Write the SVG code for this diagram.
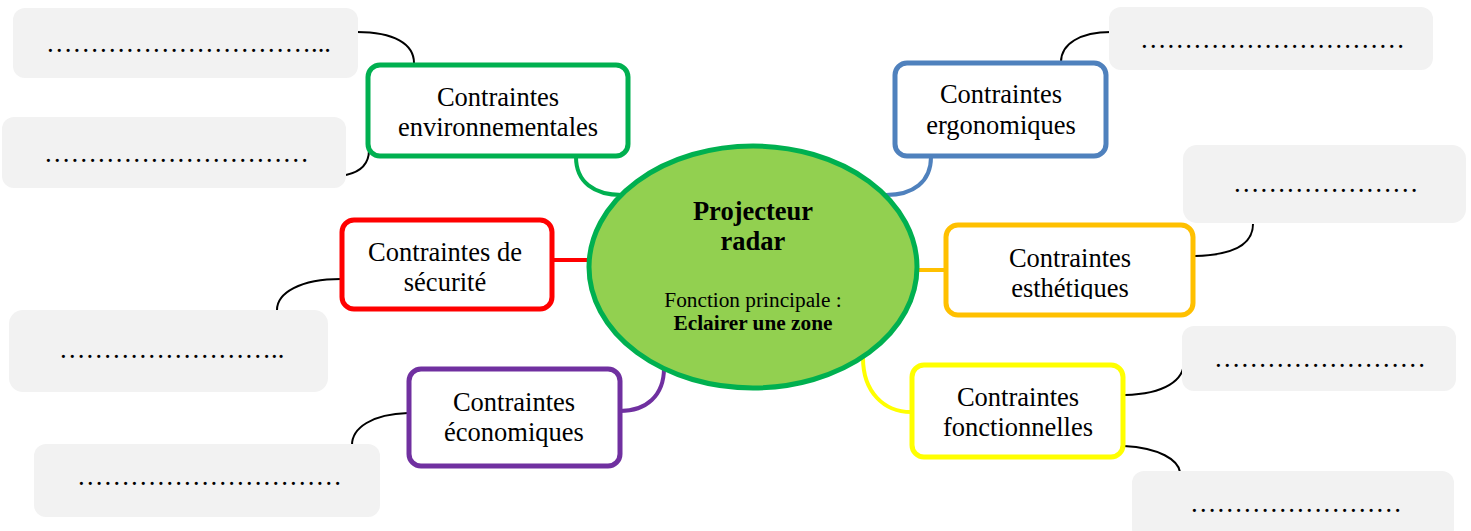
<svg xmlns="http://www.w3.org/2000/svg" width="1471" height="531" viewBox="0 0 1471 531">
<style>
.t{font-family:"Liberation Serif","Times New Roman",serif;font-size:26.5px;fill:#000}
.c{text-anchor:middle}
.g{fill:#f2f2f2}
.n{fill:#fff;stroke-width:5}
.k{fill:none;stroke:#000;stroke-width:2}
.cl{fill:none;stroke-width:4}
</style>
<defs>
<clipPath id="clipEsth"><rect x="940" y="220" width="260" height="79"/></clipPath>
</defs>
<g id="connectors">
<path class="cl" stroke="#00b050" d="M576,157 C576,182 594,195 622,195"/>
<path class="cl" stroke="#4f81bd" d="M931,157 C931,182 913,195 886,195"/>
<path class="cl" stroke="#ff0000" d="M552,260 L592,260"/>
<path class="cl" stroke="#ffc000" d="M914,270 L946,270"/>
<path class="cl" stroke="#ffff00" d="M863,358 C863,392 884,412 911,412"/>
<path class="cl" stroke="#7030a0" d="M664,368 C664,396 646,411 620,411"/>
<path class="k" d="M414,63 C414,44 394,32 357,32"/>
<path class="k" d="M369,150 C369,164 360,172 346,175"/>
<path class="k" d="M341,279 C300,279 277,293 277,310"/>
<path class="k" d="M408,413 C372,414 352,428 352,445"/>
<path class="k" d="M1061,62 C1061,44 1080,32 1111,32"/>
<path class="k" d="M1195,256 C1235,255 1253,243 1253,224"/>
<path class="k" d="M1125,395 C1165,394 1184,380 1184,362"/>
<path class="k" d="M1124,446 C1160,448 1178,460 1180,472"/>
</g>
<g id="boxA"><rect class="g" x="13" y="8" width="345" height="70" rx="12"/><text class="t" x="46" y="52">&#8230;&#8230;&#8230;&#8230;&#8230;&#8230;&#8230;&#8230;&#8230;&#8230;...</text></g>
<g id="boxB"><rect class="g" x="2" y="117" width="344" height="71" rx="12"/><text class="t" x="44" y="162">&#8230;&#8230;&#8230;&#8230;&#8230;&#8230;&#8230;&#8230;&#8230;&#8230;</text></g>
<g id="boxC"><rect class="g" x="9" y="310" width="319" height="82" rx="14"/><text class="t" x="59" y="358">&#8230;&#8230;&#8230;&#8230;&#8230;&#8230;&#8230;&#8230;..</text></g>
<g id="boxD"><rect class="g" x="34" y="444" width="346" height="73" rx="12"/><text class="t" x="77" y="485">&#8230;&#8230;&#8230;&#8230;&#8230;&#8230;&#8230;&#8230;&#8230;&#8230;</text></g>
<g id="boxE"><rect class="g" x="1109" y="7" width="324" height="63" rx="12"/><text class="t" x="1140" y="48">&#8230;&#8230;&#8230;&#8230;&#8230;&#8230;&#8230;&#8230;&#8230;&#8230;</text></g>
<g id="boxF"><rect class="g" x="1183" y="145" width="283" height="78" rx="14"/><text class="t" x="1233" y="192">&#8230;&#8230;&#8230;&#8230;&#8230;&#8230;&#8230;</text></g>
<g id="boxG"><rect class="g" x="1182" y="326" width="274" height="65" rx="12"/><text class="t" x="1214" y="367">&#8230;&#8230;&#8230;&#8230;&#8230;&#8230;&#8230;&#8230;</text></g>
<g id="boxH"><rect class="g" x="1132" y="471" width="322" height="70" rx="12"/><text class="t" x="1190" y="512">&#8230;&#8230;&#8230;&#8230;&#8230;&#8230;&#8230;&#8230;</text></g>
<g id="center">
<ellipse cx="753" cy="267" rx="164" ry="121" fill="#92d050" stroke="#00b050" stroke-width="5"/>
<text class="t c" x="753" y="220" font-weight="bold">Projecteur</text>
<text class="t c" x="753" y="250" font-weight="bold">radar</text>
<text class="t c" x="753" y="307" style="font-size:21.3px">Fonction principale :</text>
<text class="t c" x="753" y="330" font-weight="bold" style="font-size:21.3px">Eclairer une zone</text>
</g>
<g id="env"><rect class="n" stroke="#00b050" x="368" y="65" width="260" height="91" rx="12"/><text class="t c" x="498" y="106">Contraintes</text><text class="t c" x="498" y="136">environnementales</text></g>
<g id="ergo"><rect class="n" stroke="#4f81bd" x="895" y="63" width="211" height="93" rx="12"/><text class="t c" x="1001" y="103">Contraintes</text><text class="t c" x="1001" y="134">ergonomiques</text></g>
<g id="esth"><rect class="n" stroke="#ffc000" x="946" y="225" width="247" height="90" rx="12"/><text class="t c" x="1070" y="267">Contraintes</text><text class="t c" x="1070" y="297" clip-path="url(#clipEsth)">esthétiques</text></g>
<g id="fonct"><rect class="n" stroke="#ffff00" x="912" y="365" width="211" height="92" rx="12"/><text class="t c" x="1018" y="406">Contraintes</text><text class="t c" x="1018" y="436">fonctionnelles</text></g>
<g id="secu"><rect class="n" stroke="#ff0000" x="342" y="220" width="210" height="89" rx="12"/><text class="t c" x="445" y="261">Contraintes de</text><text class="t c" x="445" y="291">sécurité</text></g>
<g id="eco"><rect class="n" stroke="#7030a0" x="409" y="369" width="211" height="97" rx="12"/><text class="t c" x="514" y="411">Contraintes</text><text class="t c" x="514" y="441">économiques</text></g>
</svg>
